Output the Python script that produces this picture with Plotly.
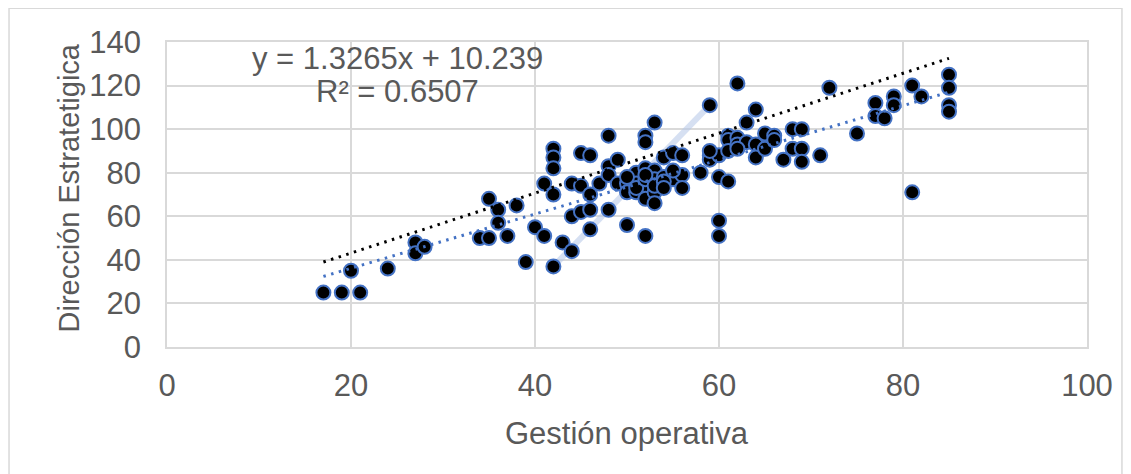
import plotly.graph_objects as go

# Data
gestion_operativa = [
    17, 19, 21, 20, 24, 27, 27, 28, 34, 35, 35, 36, 36, 37, 38, 39, 40, 41, 41,
    42, 42, 42, 42, 42, 43, 44, 44, 44, 45, 46, 45, 45, 46, 46, 46, 47,
    48, 48, 48, 48, 49, 49, 50, 50, 50, 51, 51, 51, 52, 52, 52, 52, 52, 52,
    53, 53, 53, 53, 53, 54, 54, 55, 55, 56, 56, 56, 58,
    51, 52, 53, 54, 50, 52, 55, 54,
    59, 59, 59, 60, 60, 60, 60, 61, 61, 61, 61, 62, 62, 62, 63, 63,
    64, 64, 64, 65, 65, 66, 66, 67, 68, 68, 69, 69, 69, 71, 72, 75,
    77, 77, 78, 79, 79, 81, 81, 82, 85, 85, 85, 85, 59, 62,
]
direccion_estrategica = [
    25, 25, 25, 35, 36, 48, 43, 46, 50, 50, 68, 63, 57, 51, 65, 39, 55, 51, 75,
    91, 87, 82, 70, 37, 48, 44, 75, 60, 89, 88, 74, 62, 70, 63, 54, 75,
    97, 83, 79, 63, 86, 75, 56, 75, 71, 80, 75, 71, 97, 94, 82, 74, 68, 51,
    103, 81, 77, 71, 66, 87, 78, 89, 77, 88, 79, 73, 80,
    73, 77, 74, 76, 78, 79, 81, 73,
    111, 88, 86, 88, 78, 58, 51, 97, 95, 90, 76, 121, 96, 93, 103, 94,
    109, 93, 87, 98, 91, 97, 95, 86, 100, 91, 100, 91, 85, 88, 119, 98,
    112, 106, 105, 115, 111, 120, 71, 115, 125, 119, 111, 108, 90, 91,
]

# Trend lines (end points)
trend_x = [17, 85]
black_trend_y = [39, 132.5]
blue_trend_y = [32.4, 117]

# Faint highlight segment
highlight_x = [42, 59]
highlight_y = [37, 111]

equation_text = "y = 1.3265x + 10.239"
r2_text = "R² = 0.6507"
x_title = "Gestión operativa"
y_title = "Dirección Estratetigica"

FONT = "Liberation Sans, Arial, sans-serif"
GREY = "#595959"
GRID = "#d9d9d9"
FS = 31

fig = go.Figure()

fig.add_trace(go.Scatter(
    x=highlight_x, y=highlight_y, mode="lines",
    line=dict(color="rgba(180,199,231,0.55)", width=6),
    hoverinfo="skip", showlegend=False,
))

fig.add_trace(go.Scatter(
    x=gestion_operativa, y=direccion_estrategica, mode="markers",
    marker=dict(size=14, color="black", line=dict(color="#4472c4", width=2)),
    showlegend=False,
))

fig.add_trace(go.Scatter(
    x=trend_x, y=blue_trend_y, mode="lines",
    line=dict(color="#4472c4", width=3, dash="2.5px,5.5px"),
    showlegend=False,
))
fig.add_trace(go.Scatter(
    x=trend_x, y=black_trend_y, mode="lines",
    line=dict(color="black", width=3, dash="2.5px,5.5px"),
    showlegend=False,
))

axis_common = dict(
    showgrid=True, gridcolor=GRID, gridwidth=1.5,
    zeroline=False, showline=True, linecolor=GRID, linewidth=1.5, mirror=True,
    tickfont=dict(family=FONT, size=FS, color=GREY),
    ticks="",
)

fig.update_layout(
    width=1131, height=474,
    margin=dict(l=159, r=52, t=34, b=135),
    paper_bgcolor="white", plot_bgcolor="white",
    font=dict(family=FONT, color=GREY),
    xaxis=dict(range=[0, 100], dtick=20, tick0=0, ticklabelstandoff=10, **axis_common),
    yaxis=dict(range=[0, 140], dtick=20, tick0=0, ticklabelstandoff=18, **axis_common),
    annotations=[
        dict(text=equation_text, x=0.250, y=1.0, xref="paper", yref="paper",
             xanchor="center", yanchor="middle", yshift=-16, showarrow=False,
             font=dict(family=FONT, size=FS, color=GREY)),
        dict(text=r2_text, x=0.251, y=1.0, xref="paper", yref="paper",
             xanchor="center", yanchor="middle", yshift=-49, showarrow=False,
             font=dict(family=FONT, size=FS, color=GREY)),
        dict(text=x_title, x=0.5, y=0, xref="paper", yref="paper",
             xanchor="center", yanchor="middle", yshift=-86, showarrow=False,
             font=dict(family=FONT, size=FS, color=GREY)),
        dict(text=y_title, x=0, y=0.5, xref="paper", yref="paper",
             xanchor="center", yanchor="middle", xshift=-99, yshift=6, textangle=-90,
             showarrow=False, font=dict(family=FONT, size=29, color=GREY)),
    ],
    shapes=[
        dict(type="rect", xref="paper", yref="paper",
             x0=-0.1717, x1=1.038, y0=-0.5, y1=1.111,
             line=dict(color=GRID, width=1.5), fillcolor="rgba(0,0,0,0)", layer="below"),
    ],
)

fig.write_html("out.html")
